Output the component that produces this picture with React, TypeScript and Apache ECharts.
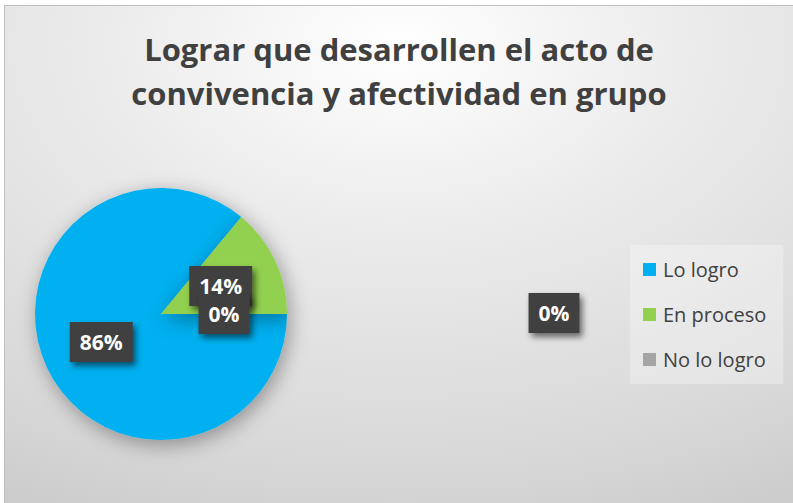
import React, { useEffect, useRef } from "react";
import * as echarts from "echarts";

const titleLines = ["Lograr que desarrollen el acto de", "convivencia y afectividad en grupo"];
const categories = ["Lo logro", "En proceso", "No lo logro"];
const values = [86, 14, 0];
const colors = ["#00B0F0", "#92D050", "#A5A5A5"];
const strayLabel = "0%";

const PIE_CENTER = [156, 308];
const PIE_RADIUS = 126;

const boxStyle = {
  backgroundColor: "#404040",
  padding: [8, 10, 8, 10],
  lineHeight: 24,
  shadowBlur: 6,
  shadowColor: "rgba(0,0,0,0.55)",
  shadowOffsetX: 3,
  shadowOffsetY: 4,
};

function pct(v: number, total: number) {
  return Math.round((v / total) * 100) + "%";
}

export default function App() {
  const ref = useRef<HTMLDivElement>(null);
  useEffect(() => {
    if (!ref.current) return;
    const chart = echarts.init(ref.current, undefined, { renderer: "svg" });
    const total = values.reduce((a, b) => a + b, 0);

    // labels for zero-value slices (ECharts does not draw them), placed like "inside" labels
    const zeroLabels: any[] = [];
    let cum = 0;
    values.forEach((v) => {
      if (v === 0) {
        const a = ((cum + v / 2) / total) * Math.PI * 2;
        zeroLabels.push({
          type: "text",
          z: 100,
          x: PIE_CENTER[0] + (PIE_RADIUS / 2) * Math.cos(a),
          y: PIE_CENTER[1] + (PIE_RADIUS / 2) * Math.sin(a),
          style: {
            text: pct(v, total),
            fill: "#ffffff",
            font: "bold 21px 'Open Sans'",
            align: "center",
            verticalAlign: "middle",
            ...boxStyle,
          },
        });
      }
      cum += v;
    });

    chart.setOption({
      animation: false,
      backgroundColor: {
        type: "radial",
        x: 0.5,
        y: 0.08,
        r: 1.2,
        colorStops: [
          { offset: 0, color: "#ffffff" },
          { offset: 0.3, color: "#ececec" },
          { offset: 0.7, color: "#d8d8d8" },
          { offset: 1, color: "#c2c2c2" },
        ],
      },
      title: {
        text: titleLines.join("\n"),
        left: "center",
        top: 21,
        padding: 0,
        textStyle: {
          fontFamily: "Open Sans",
          fontWeight: "bold",
          fontSize: 31,
          lineHeight: 44,
          color: "#404040",
        },
      },
      legend: {
        orient: "vertical",
        left: 625,
        top: 239,
        data: categories,
        icon: "rect",
        itemWidth: 13,
        itemHeight: 13,
        itemGap: 22,
        padding: [13, 17, 13, 13],
        backgroundColor: "rgba(255,255,255,0.3)",
        textStyle: {
          fontFamily: "Open Sans",
          fontSize: 20,
          lineHeight: 23,
          color: "#404040",
          padding: [0, 0, 0, 2],
        },
      },
      graphic: [
        {
          type: "text",
          z: 100,
          x: 549,
          y: 307,
          style: {
            text: strayLabel,
            fill: "#ffffff",
            font: "bold 21px 'Open Sans'",
            align: "center",
            verticalAlign: "middle",
            ...boxStyle,
          },
        },
        ...zeroLabels,
      ],
      series: [
        {
          type: "pie",
          center: PIE_CENTER,
          radius: PIE_RADIUS,
          startAngle: 0,
          clockwise: true,
          avoidLabelOverlap: false,
          data: categories.map((name, i) => ({
            name,
            value: values[i],
            itemStyle: { color: colors[i] },
          })),
          itemStyle: {
            shadowBlur: 20,
            shadowColor: "rgba(0,0,0,0.35)",
            shadowOffsetX: 3,
            shadowOffsetY: 5,
          },
          label: {
            show: true,
            position: "inside",
            formatter: (p: any) => Math.round(p.percent) + "%",
            color: "#ffffff",
            fontFamily: "Open Sans",
            fontWeight: "bold",
            fontSize: 21,
            ...boxStyle,
          },
          labelLine: { show: false },
          emphasis: { disabled: true },
        },
      ],
    });
    return () => chart.dispose();
  }, []);
  return (
    <div style={{ position: "absolute", left: 0, top: 0, width: 793, height: 503, background: "#ffffff" }}>
      <div
        style={{
          position: "absolute",
          left: 4,
          top: 5,
          width: 789,
          height: 498,
          boxSizing: "border-box",
          borderTop: "1px solid #c0c0c0",
          borderLeft: "1px solid #c0c0c0",
        }}
      >
        <div ref={ref} style={{ width: 788, height: 497 }} />
      </div>
    </div>
  );
}
